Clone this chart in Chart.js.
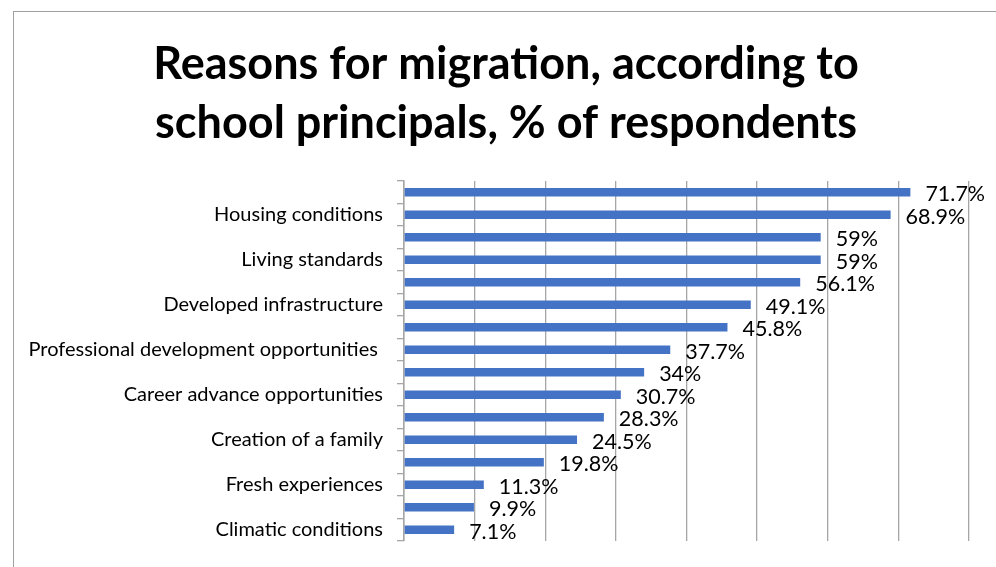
<!DOCTYPE html>
<html>
<head>
<meta charset="utf-8">
<script src="https://cdn.jsdelivr.net/npm/chart.js@4/dist/chart.umd.min.js"></script>
<style>
  html, body { margin: 0; padding: 0; background: #fff; }
  #wrap { position: relative; width: 996px; height: 567px; overflow: hidden; }
  #frame { position: absolute; left: 13px; top: 11px; width: 1100px; height: 700px;
           border-top: 1.5px solid #a0a0a0; border-left: 1.5px solid #a0a0a0; }
  canvas { position: absolute; left: 0; top: 0; }
</style>
</head>
<body>
<div id="wrap">
  <div id="frame"></div>
  <canvas id="chart" width="996" height="567"></canvas>
</div>
<script>
// Reasons, listed top to bottom; only every other reason carries a printed label
const categories = [
  "", "Housing conditions",
  "", "Living standards",
  "", "Developed infrastructure",
  "", "Professional development opportunities ",
  "", "Career advance opportunities",
  "", "Creation of a family",
  "", "Fresh experiences",
  "", "Climatic conditions"
];
const shares = [71.7, 68.9, 59, 59, 56.1, 49.1, 45.8, 37.7, 34, 30.7, 28.3, 24.5, 19.8, 11.3, 9.9, 7.1];
const titleLines = ["Reasons for migration, according to", "school principals, % of respondents"];
const axisMax = 80;
const axisStep = 10;

const FONT = "Lato, 'Noto Sans', sans-serif";
const GRID = "#a6a6a6";

// Two-line heading, centred over the whole chart frame
const heading = {
  id: "heading",
  afterDraw(chart) {
    const ctx = chart.ctx;
    ctx.save();
    ctx.font = "bold 45px " + FONT;
    ctx.fillStyle = "#000";
    ctx.textAlign = "center";
    ctx.textBaseline = "middle";
    titleLines.forEach((line, i) => ctx.fillText(line, 506, 64.5 + i * 59));
    ctx.restore();
  }
};

// Writes each bar's percentage just past its end
const valueLabels = {
  id: "valueLabels",
  afterDatasetsDraw(chart) {
    const ctx = chart.ctx;
    const meta = chart.getDatasetMeta(0);
    ctx.save();
    ctx.font = "21.5px " + FONT;
    ctx.fillStyle = "#000";
    ctx.textAlign = "left";
    ctx.textBaseline = "middle";
    meta.data.forEach((bar, i) => {
      const v = chart.data.datasets[0].data[i];
      ctx.fillText(v + "%", bar.x + 15, bar.y + 2);
    });
    ctx.restore();
  }
};

new Chart(document.getElementById("chart"), {
  type: "bar",
  data: {
    labels: categories,
    datasets: [{
      data: shares,
      backgroundColor: "#4472C4",
      borderWidth: 0,
      barPercentage: 0.37,
      categoryPercentage: 1
    }]
  },
  options: {
    indexAxis: "y",
    responsive: false,
    animation: false,
    layout: { padding: { left: 0, right: 27, top: 181, bottom: 17 } },
    plugins: {
      legend: { display: false },
      tooltip: { enabled: false },
      title: { display: false }
    },
    scales: {
      x: {
        min: 0,
        max: axisMax,
        ticks: { display: false, stepSize: axisStep },
        grid: { color: GRID, lineWidth: 1.3, drawTicks: false },
        border: { display: false }
      },
      y: {
        afterFit(scale) { scale.width = 404; },
        ticks: {
          color: "#000",
          font: { family: FONT, size: 20 },
          padding: 14,
          autoSkip: false
        },
        grid: { color: GRID, lineWidth: 1.3, drawOnChartArea: false, tickLength: 7, offset: true },
        border: { color: GRID, width: 1.5 }
      }
    }
  },
  plugins: [valueLabels, heading]
});
</script>
</body>
</html>
